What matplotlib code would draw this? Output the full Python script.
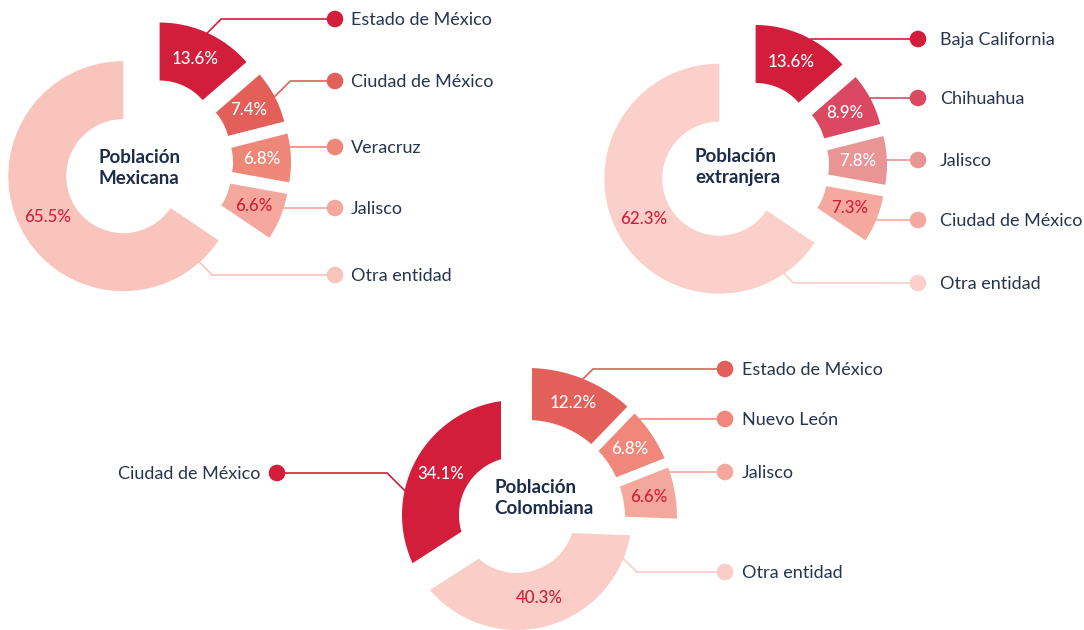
import numpy as np
import matplotlib.pyplot as plt
from matplotlib.patches import Polygon, Circle

plt.rcParams['font.family'] = ['Lato', 'DejaVu Sans']

W, H = 1084, 630

# ---- datos ----
mex_states = ['Estado de México', 'Ciudad de México', 'Veracruz', 'Jalisco', 'Otra entidad']
mex_pct = [13.6, 7.4, 6.8, 6.6, 65.5]

ext_states = ['Baja California', 'Chihuahua', 'Jalisco', 'Ciudad de México', 'Otra entidad']
ext_pct = [13.6, 8.9, 7.8, 7.3, 62.3]
# en el original este panel reutiliza la forma del donut "Mexicana"
ext_arc_pct = [13.6, 7.4, 6.8, 6.6, 65.5]

col_states = ['Estado de México', 'Nuevo León', 'Jalisco', 'Otra entidad', 'Ciudad de México']
col_pct = [12.2, 6.8, 6.6, 40.3, 34.1]

# ---- estilo ----
RED = '#D21E3A'
WHITE = '#FFFFFF'
NAVY = '#1C2C4C'
TXT = '#27344F'

mex_colors = ['#D21E3A', '#E35F5A', '#EF8778', '#F4A79C', '#F9C4BC']
ext_colors = ['#D21E3A', '#DA4861', '#EA9595', '#F5A99E', '#FBD0CA']
col_colors = ['#E35F5A', '#F0877A', '#F4A79C', '#FACDC7', '#D21E3A']

mex_lbl = [WHITE, WHITE, WHITE, RED, RED]
ext_lbl = [WHITE, WHITE, WHITE, RED, RED]
col_lbl = [WHITE, WHITE, RED, RED, WHITE]

# disposicion en pixeles de la imagen (y hacia abajo)
# ring = (dx, dy, r_in, r_out, pad, explode)
lay_mex = dict(center=(148, 163), rings=[(0, 0, 57, 115, 0, 28)], ring_of=[0, 0, 0, 0, 0],
               anchor=[None, None, 'flat', 'flat', -48.5],
               leg_y=[19, 81, 147, 208, 275], side=['r'] * 5, mark_x=335, gap=16,
               title='Población\nMexicana', title_xy=(99, 168))
lay_ext = dict(center=(744, 165.5), rings=[(0, 0, 57, 115, 0, 28)], ring_of=[0, 0, 0, 0, 0],
               anchor=['flat', 'flat', 'flat', 'flat', -55.6],
               leg_y=[39, 98, 160, 220, 283], side=['r'] * 5, mark_x=918, gap=22,
               title='Población\nextranjera', title_xy=(695, 167))
lay_col = dict(center=(517, 515), rings=[(0, 0, 58, 115, 16, 0), (10, 3, 98, 150, 5, 0)],
               ring_of=[1, 1, 1, 0, 0],
               anchor=[None, 'flat', 'flat', -22.3, 167.7],
               leg_y=[369, 419, 472, 572, 473], side=['r', 'r', 'r', 'r', 'l'],
               mark_x=725, mark_x_left=277, gap=17,
               title='Población\nColombiana', title_xy=(494, 498))


def slice_angles(pcts):
    fr = np.array(pcts, dtype=float) / np.sum(pcts)
    hi = 90 - 360 * np.r_[0, np.cumsum(fr)[:-1]]
    lo = hi - 360 * fr
    return lo, hi


def ring_sector(cx, cy, r_in, r_out, t1, t2, pad=0, n=80):
    # sector anular con bordes paralelos separados "pad" de la linea radial
    d_out = np.degrees(np.arcsin(pad / r_out))
    d_in = np.degrees(np.arcsin(pad / r_in))
    a_out = np.radians(np.linspace(t1 + d_out, t2 - d_out, n))
    a_in = np.radians(np.linspace(t2 - d_in, t1 + d_in, n))
    xs = np.r_[cx + r_out * np.cos(a_out), cx + r_in * np.cos(a_in)]
    ys = np.r_[cy + r_out * np.sin(a_out), cy + r_in * np.sin(a_in)]
    return np.c_[xs, ys]


def draw_donut(ax, states, pcts, arc_pcts, colors, lbl_colors, lay):
    lo, hi = slice_angles(arc_pcts)
    for i in range(len(pcts)):
        dx, dy, r_in, r_out, pad, expl = lay['rings'][lay['ring_of'][i]]
        mid = np.radians((lo[i] + hi[i]) / 2)
        cx = lay['center'][0] + dx + expl * np.cos(mid)
        cy = H - (lay['center'][1] + dy) + expl * np.sin(mid)

        ax.add_patch(Polygon(ring_sector(cx, cy, r_in, r_out, lo[i], hi[i], pad),
                             closed=True, facecolor=colors[i], edgecolor='none'))

        rm = (r_in + r_out) / 2
        ax.text(cx + rm * np.cos(mid), cy + rm * np.sin(mid), f'{pcts[i]:.1f}%',
                ha='center', va='center', fontsize=12.2, fontweight='medium',
                color=lbl_colors[i])

        # linea guia hacia la leyenda
        ly = H - lay['leg_y'][i]
        sgn = 1 if lay['side'][i] == 'r' else -1
        a = lay['anchor'][i]
        if a == 'flat':
            ax_ = cx + sgn * np.sqrt(r_out ** 2 - (ly - cy) ** 2)
            ay_ = ly
        else:
            ang = mid if a is None else np.radians(a)
            ax_ = cx + r_out * np.cos(ang)
            ay_ = cy + r_out * np.sin(ang)
        mx = lay['mark_x'] if sgn > 0 else lay['mark_x_left']
        xs = [ax_, ax_ + sgn * abs(ly - ay_), mx]
        ys = [ay_, ly, ly]
        ax.plot(xs, ys, color=colors[i], lw=1.2, solid_joinstyle='miter', zorder=1)
        ax.add_patch(Circle((mx, ly), 8.3, facecolor=colors[i], edgecolor='none', zorder=3))
        ax.text(mx + sgn * lay['gap'], ly - 1, states[i], ha='left' if sgn > 0 else 'right',
                va='center', fontsize=13.0, color=TXT)

    tx, ty = lay['title_xy']
    ax.text(tx, H - ty, lay['title'], ha='left', va='center', fontsize=13.5,
            fontweight='bold', color=NAVY, linespacing=1.25)


fig = plt.figure(figsize=(W / 100, H / 100), dpi=100)
ax = fig.add_axes([0, 0, 1, 1])
ax.set_xlim(0, W)
ax.set_ylim(0, H)
ax.axis('off')

draw_donut(ax, mex_states, mex_pct, mex_pct, mex_colors, mex_lbl, lay_mex)
draw_donut(ax, ext_states, ext_pct, ext_arc_pct, ext_colors, ext_lbl, lay_ext)
draw_donut(ax, col_states, col_pct, col_pct, col_colors, col_lbl, lay_col)

fig.savefig('out.png', dpi=100, facecolor='white')
